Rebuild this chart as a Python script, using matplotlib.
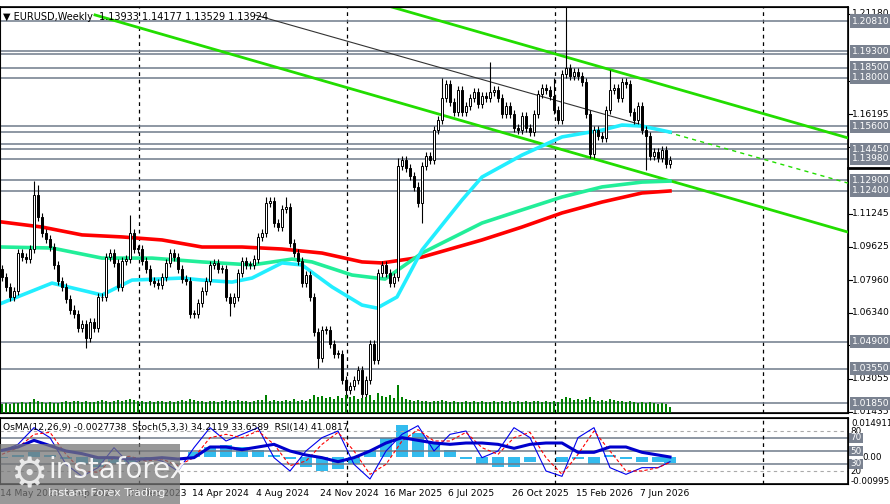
import numpy as np
import matplotlib
matplotlib.use('Agg')
import matplotlib.pyplot as plt
from matplotlib.patches import Rectangle

# ============================================================
# Dados (leitura aproximada do grafico semanal EURUSD)
# ============================================================
closes = [
    1.081, 1.076, 1.071, 1.074, 1.093, 1.091, 1.090, 1.095, 1.122, 1.111,
    1.103, 1.100, 1.096, 1.087, 1.079, 1.076, 1.070, 1.065, 1.063, 1.056,
    1.058, 1.051, 1.059, 1.056, 1.071, 1.071, 1.091, 1.093, 1.088, 1.076,
    1.089, 1.090, 1.103, 1.095, 1.095, 1.089, 1.085, 1.079, 1.078, 1.077,
    1.081, 1.088, 1.093, 1.091, 1.085, 1.080, 1.079, 1.063, 1.063, 1.068,
    1.074, 1.079, 1.087, 1.088, 1.085, 1.085, 1.071, 1.068, 1.071, 1.083,
    1.089, 1.087, 1.087, 1.090, 1.101, 1.103, 1.118, 1.119, 1.108, 1.106,
    1.115, 1.116, 1.098, 1.093, 1.089, 1.078, 1.082, 1.071, 1.054, 1.041,
    1.055, 1.055, 1.048, 1.043, 1.043, 1.030, 1.025, 1.027, 1.030, 1.035,
    1.023, 1.030, 1.048, 1.040, 1.083, 1.087, 1.083, 1.078, 1.081, 1.136,
    1.139, 1.135, 1.131, 1.126, 1.118, 1.136, 1.141, 1.139, 1.154, 1.159,
    1.170, 1.177, 1.168, 1.163, 1.174, 1.163, 1.166, 1.170, 1.173, 1.167,
    1.171, 1.170, 1.173, 1.174, 1.170, 1.162, 1.166, 1.162, 1.155, 1.154,
    1.161, 1.155, 1.153, 1.162, 1.172, 1.175, 1.174, 1.171, 1.164, 1.159,
    1.182, 1.185, 1.181, 1.183, 1.181, 1.178, 1.162, 1.142, 1.154, 1.151,
    1.150, 1.164, 1.174, 1.175, 1.170, 1.178, 1.177, 1.163, 1.159, 1.166,
    1.154, 1.151, 1.141, 1.143, 1.140, 1.144, 1.137, 1.13924,
]
first_open = 1.085
extra_high = {8: 1.1285, 9: 1.127, 32: 1.112, 66: 1.121, 71: 1.121, 99: 1.140,
              110: 1.180, 122: 1.1880, 138: 1.1800, 141: 1.2160, 152: 1.1840}
extra_low = {21: 1.046, 57: 1.062, 79: 1.036, 86: 1.019, 90: 1.018, 105: 1.108, 161: 1.134}

volumes = [
    9, 10, 9, 10, 10, 11, 10, 11, 14, 12, 11, 10, 11, 10, 10, 11, 12, 11, 12, 12,
    11, 12, 11, 11, 12, 13, 12, 11, 12, 13, 12, 13, 14, 13, 12, 12, 11, 12, 11, 12,
    12, 11, 12, 11, 12, 13, 12, 14, 13, 12, 12, 11, 12, 12, 11, 12, 13, 12, 12, 13,
    12, 12, 11, 12, 13, 13, 18, 12, 13, 12, 12, 13, 12, 14, 12, 13, 12, 14, 18, 16,
    17, 15, 16, 14, 17, 15, 18, 16, 17, 14, 15, 16, 18, 13, 20, 17, 16, 18, 15, 28,
    16, 14, 13, 12, 13, 12, 12, 11, 12, 12, 13, 12, 11, 12, 11, 11, 12, 11, 12, 11,
    12, 11, 11, 12, 11, 12, 11, 12, 11, 12, 11, 12, 11, 12, 12, 11, 12, 11, 12, 11,
    14, 16, 15, 13, 14, 13, 14, 16, 13, 12, 13, 12, 14, 13, 12, 12, 11, 12, 11, 10,
    11, 10, 11, 10, 9, 10, 9, 6,
]

# medias moveis (x em pixels do grafico original, valores em preco)
red_x = [0, 40, 80, 120, 160, 200, 240, 280, 320, 360, 380, 420, 480, 520, 560, 600, 640, 668]
red_p = [1.1084, 1.1059, 1.1020, 1.1010, 1.0995, 1.0960, 1.0960, 1.0950, 1.0930, 1.0886,
         1.0881, 1.0910, 1.0995, 1.1059, 1.1129, 1.1183, 1.1228, 1.1238]
grn_x = [0, 50, 100, 150, 200, 250, 290, 310, 350, 383, 420, 480, 520, 560, 600, 640, 668]
grn_p = [1.0960, 1.0955, 1.0905, 1.0905, 1.0886, 1.0871, 1.0900, 1.0886, 1.0821, 1.0801,
         1.0930, 1.1079, 1.1144, 1.1208, 1.1258, 1.1282, 1.1287]
cyn_x = [0, 50, 100, 130, 180, 200, 230, 250, 280, 300, 330, 360, 375, 395, 420, 460, 480,
         520, 560, 600, 620, 640, 668]
cyn_p = [1.0682, 1.0781, 1.0722, 1.0796, 1.0806, 1.0796, 1.0786, 1.0806, 1.0881, 1.0871,
         1.0762, 1.0672, 1.0657, 1.0712, 1.0945, 1.1193, 1.1307, 1.1416, 1.1506, 1.1540,
         1.1565, 1.1560, 1.1530]

levels = [1.2081, 1.1930, 1.1915, 1.1850, 1.1800, 1.1560, 1.1530, 1.1470, 1.1445, 1.1398,
          1.1290, 1.1240, 1.0490, 1.0355, 1.0185]
level_labels = ['1.20810', '1.19300', '1.18500', '1.18000', '1.15600', '1.14450', '1.13980',
                '1.12900', '1.12400', '1.04900', '1.03550', '1.01850']
price_ticks = ['1.21180', '1.17815', '1.16195', '1.14560', '1.11245', '1.09625', '1.07960',
               '1.06340', '1.04720', '1.03055', '1.01435']

# indicadores, um ponto a cada 4 semanas
ind_x = list(range(0, 660, 16)) + [668]
rsi = [51, 56, 66, 58, 50, 46, 40, 40, 38, 38, 40, 38, 40, 56, 56, 52, 56, 60, 50, 44, 40,
       34, 40, 50, 62, 70, 66, 62, 60, 62, 62, 60, 54, 60, 62, 62, 48, 48, 56, 56, 48, 44, 41]
stoch = [50, 60, 85, 70, 30, 12, 25, 55, 30, 40, 35, 20, 55, 85, 65, 75, 85, 40, 20, 50, 70,
         80, 30, 8, 50, 75, 88, 50, 75, 80, 40, 50, 85, 70, 20, 12, 70, 85, 25, 15, 25, 25, 34]
stoch_sig = [45, 55, 75, 78, 45, 20, 18, 40, 42, 35, 38, 28, 40, 70, 75, 70, 80, 60, 28, 35, 60,
             78, 50, 15, 30, 65, 82, 65, 65, 78, 55, 45, 70, 78, 40, 15, 45, 80, 50, 20, 20, 25, 33]
osma = [-0.5, 1, 2, 1, -1, -3, -4, -3, -2, -1, -1, 0, 2, 4, 5, 4, 3, 1, -1, -4, -6,
        -5, -3, 3, 8, 13, 10, 6, 3, -1, -3, -4, -4, -2, 0, -2, -1, -3, 1, -1, -2, -2, -2.7]

date_labels = ['14 May 2023', '3 Sep 2023', '24 Dec 2023', '14 Apr 2024', '4 Aug 2024',
               '24 Nov 2024', '16 Mar 2025', '6 Jul 2025', '26 Oct 2025', '15 Feb 2026',
               '7 Jun 2026']

# ============================================================
# Funcoes auxiliares
# ============================================================
W, H = 890, 504
PMAX = 1.2081 + 14 * 0.000496
PMIN = 1.2081 - 392 * 0.000496
FS = 6.6


def py(p):
    return 21 + (1.2081 - p) / 0.000496


def px2i(x):
    return x / 4.0


fig = plt.figure(figsize=(W / 100, H / 100), dpi=100)
fig.patch.set_facecolor('white')
ax = fig.add_axes([0, 1 - 413 / H, 848 / W, 406 / H])
ax.set_xlim(-0.5, 211.5)
ax.set_ylim(PMIN, PMAX)
ax.set_xticks([])
ax.set_yticks([])
for s in ax.spines.values():
    s.set_linewidth(1.2)

# volume
axv = ax.twinx()
axv.set_ylim(0, 406)
axv.set_yticks([])
axv.bar(np.arange(len(volumes)), volumes, width=0.35, color='#008000', zorder=1)

# grade vertical
for x in [137, 345, 553, 761]:
    ax.axvline(px2i(x), color='black', ls=(0, (3, 3)), lw=0.9, zorder=1)

for lv in levels:
    ax.axhline(lv, color='#6f7b8a', lw=1.1, zorder=2)

# linhas de tendencia
ax.plot([94, 211.5], [1.2170, 1.1501], color='#22dd00', lw=2, zorder=3)
ax.plot([23.25, 211.5], [1.2111, 1.1034], color='#22dd00', lw=2, zorder=3)
ax.plot([63.25, 164.5], [1.2111, 1.1540], color='#333333', lw=0.8, zorder=3)
ax.plot([164.5, 211.5], [1.1540, 1.1277], color='#22dd00', lw=1, ls=(0, (3, 3)), zorder=3)

# medias
ax.plot(np.array(red_x) / 4, red_p, color='#ff0000', lw=2.6, zorder=4)
ax.plot(np.array(grn_x) / 4, grn_p, color='#22ee99', lw=2.6, zorder=4)
ax.plot(np.array(cyn_x) / 4, cyn_p, color='#22eeff', lw=2.6, zorder=4)

# velas
opens = [first_open] + closes[:-1]
for i, (o, c) in enumerate(zip(opens, closes)):
    hi = max(extra_high.get(i, 0), max(o, c) + 0.002)
    lo = min(extra_low.get(i, 9), min(o, c) - 0.002)
    ax.vlines(i, lo, hi, color='black', lw=0.8, zorder=5)
    up = c >= o
    ax.add_patch(Rectangle((i - 0.35, min(o, c)), 0.7, max(abs(c - o), 0.0004),
                           facecolor='white' if up else 'black', edgecolor='black',
                           lw=0.7, zorder=6))

ax.text(0.004, 0.988, '\u25bc EURUSD,Weekly  1.13933 1.14177 1.13529 1.13924',
        transform=ax.transAxes, fontsize=7, va='top', zorder=8)

# eixo de precos a direita
for t in price_ticks:
    y = py(float(t))
    fig.text(852 / W, 1 - y / H, t, fontsize=FS, va='center', ha='left')
    fig.add_artist(plt.Line2D([848 / W, 852 / W], [1 - y / H] * 2, color='black', lw=0.8))
for t in level_labels:
    y = py(float(t))
    fig.patches.append(Rectangle((850 / W, 1 - (y + 6.5) / H), 40 / W, 13 / H,
                                 transform=fig.transFigure, facecolor='#7a8290',
                                 edgecolor='none', zorder=5))
    fig.text(852 / W, 1 - y / H, t, fontsize=FS, va='center', ha='left', color='white',
             zorder=6)
yb = py(1.13924)
fig.add_artist(plt.Line2D([848 / W, 890 / W], [1 - (yb + 8) / H] * 2, color='black', lw=2))

# ============================================================
# Painel dos indicadores
# ============================================================
ai = fig.add_axes([0, 1 - 484 / H, 848 / W, 66 / H])
ai.set_xlim(-0.5, 211.5)
ai.set_ylim(0.5, 99.5)
ai.set_xticks([])
ai.set_yticks([])
for s in ai.spines.values():
    s.set_linewidth(1.2)
ah = ai.twinx()
ah.set_ylim(-0.0112, 0.0161)
ah.set_yticks([])
ah.bar(np.array(ind_x) / 4, np.array(osma) / 1000, width=3.0, color='#33bbee', zorder=1)

for lv in [70, 50, 30]:
    ai.axhline(lv, color='#6f7b8a', lw=1.1)
for lv in [80, 20]:
    ai.axhline(lv, color='#aaaaaa', lw=0.8, ls=(0, (3, 3)))
for x in [137, 345, 553, 761]:
    ai.axvline(px2i(x), color='black', ls=(0, (3, 3)), lw=0.9)
ai.set_zorder(ah.get_zorder() + 1)
ai.patch.set_visible(False)
ai.plot(np.array(ind_x) / 4, stoch, color='#0000ee', lw=0.8)
ai.plot(np.array(ind_x) / 4, stoch_sig, color='#ff0000', lw=0.8, ls=(0, (3, 2)))
ai.plot(np.array(ind_x) / 4, rsi, color='#0000cc', lw=2.2)
ai.text(0.004, 0.93, 'OsMA(12,26,9) -0.0027738  Stoch(5,3,3) 34.2119 33.6589  RSI(14) 41.0817',
        transform=ai.transAxes, fontsize=6.6, va='top')

fig.text(851 / W, 1 - 423 / H, '0.014911', fontsize=6.3, va='center')
fig.text(851 / W, 1 - 481 / H, '-0.00995', fontsize=6.3, va='center')
fig.text(862 / W, 1 - 457 / H, '0.00', fontsize=6.3, va='center')
for lab, yv in [('80', 431), ('70', 438), ('50', 451), ('30', 464), ('20', 471)]:
    if lab in ('70', '50', '30'):
        fig.patches.append(Rectangle((849 / W, 1 - (yv + 5) / H), 14 / W, 10 / H,
                                     transform=fig.transFigure, facecolor='#7a8290',
                                     edgecolor='none', zorder=5))
        fig.text(850 / W, 1 - yv / H, lab, fontsize=6.3, va='center', color='white', zorder=6)
    else:
        fig.text(850 / W, 1 - yv / H, lab, fontsize=6.3, va='center')

for k, lab in enumerate(date_labels):
    x = 640 - 64 * (10 - k)
    fig.text(x / W, 1 - 493 / H, lab, fontsize=6.6, va='center', ha='left')

# marca d'agua
fig.patches.append(Rectangle((0, 0), 180 / W, 60 / H, transform=fig.transFigure,
                             facecolor='#777777', alpha=0.75, edgecolor='none', zorder=9))
fig.text(48 / W, 1 - 470 / H, 'instaforex', fontsize=20, color='white', va='center',
         zorder=10, alpha=0.9)
fig.text(48 / W, 1 - 493 / H, 'Instant Forex Trading', fontsize=8, color='white',
         va='center', zorder=10, alpha=0.9)
fig.text(10 / W, 1 - 475 / H, '\u2699', fontsize=30, color='white', va='center', zorder=10,
         alpha=0.8)

fig.savefig('out.png', dpi=100)
